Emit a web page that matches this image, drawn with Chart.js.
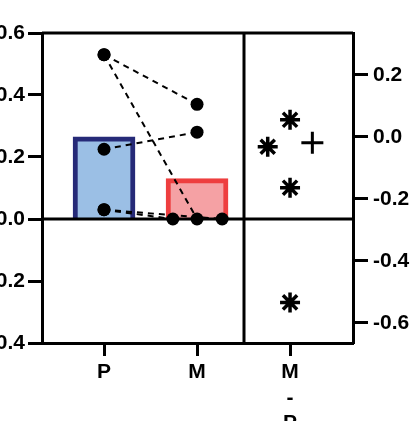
<!DOCTYPE html>
<html>
<head>
<meta charset="utf-8">
<script src="https://cdn.jsdelivr.net/npm/chart.js@4.4.0/dist/chart.umd.min.js"></script>
<style>
  html, body { margin: 0; padding: 0; background: #fff; overflow: hidden; }
  canvas { display: block; }
</style>
</head>
<body>
<canvas id="grafico" width="412" height="421"></canvas>
<script>
// Datos
const grupos = ["P", "M", "M-P"];
const posGrupos = [1, 2, 3];
const medias = [0.265, 0.13];
const valoresP = [0.53, 0.53, 0.225, 0.03, 0.03];
const valoresM = [0.37, 0.0, 0.28, 0.0, 0.0];
const posM = [2.0, 2.0, 2.0, 1.74, 2.27];
const diferencias = [0.055, -0.032, -0.164, -0.534];
const posDif = [3.0, 2.76, 3.0, 3.0];
const resumenDif = [-0.019];
const posResumen = [3.24];
const ticksIzq = [0.6, 0.4, 0.2, 0.0, -0.2, -0.4];
const ticksDer = [0.2, 0.0, -0.2, -0.4, -0.6];

const fuente = { family: "'Liberation Sans', Arial, sans-serif", size: 21, weight: 'bold', lineHeight: 1.2 };
const divisor = 2.505;

// Líneas de marco: borde superior, separador y línea del cero
const marco = {
    id: 'marco',
    afterDatasetsDraw(chart) {
        const { ctx, chartArea: a, scales } = chart;
        const xDiv = scales.x.getPixelForValue(divisor);
        const yCero = scales.y.getPixelForValue(0);
        ctx.save();
        ctx.strokeStyle = '#000';
        ctx.lineWidth = 3;
        ctx.beginPath();
        ctx.moveTo(a.left, a.top);
        ctx.lineTo(a.right, a.top);
        ctx.moveTo(xDiv, a.top);
        ctx.lineTo(xDiv, a.bottom);
        ctx.moveTo(a.left, yCero);
        ctx.lineTo(a.right, yCero);
        ctx.stroke();
        ctx.restore();
    }
};

const lineasPares = valoresP.map((p, i) => ({
    type: 'line',
    data: [{ x: posGrupos[0], y: p }, { x: posM[i], y: valoresM[i] }],
    borderColor: '#000',
    borderWidth: 2,
    borderDash: [6, 5],
    pointRadius: 0,
    fill: false,
    order: 2
}));

const ejeTicks = {
    grid: { offset: false, drawOnChartArea: false, drawTicks: true, tickLength: 14, tickWidth: 3, tickColor: '#000' },
    border: { display: true, color: '#000', width: 3 }
};

new Chart(document.getElementById("grafico"), {
    type: 'scatter',
    data: {
        datasets: [
            {
                type: 'bar',
                data: medias.map((m, i) => ({ x: posGrupos[i], y: m })),
                backgroundColor: ['#9bbfe5', '#f5a1a4'],
                borderColor: ['#262a78', '#ee3e3f'],
                borderWidth: 5,
                barThickness: 62,
                borderSkipped: 'start',
                order: 3
            },
            ...lineasPares,
            {
                type: 'scatter',
                data: valoresP.map(v => ({ x: posGrupos[0], y: v }))
                    .concat(valoresM.map((v, i) => ({ x: posM[i], y: v }))),
                pointRadius: 6.5,
                pointBackgroundColor: '#000',
                pointBorderWidth: 0,
                order: 1
            },
            {
                type: 'scatter',
                yAxisID: 'y2',
                data: diferencias.map((d, i) => ({ x: posDif[i], y: d })),
                pointStyle: 'star',
                pointRadius: 10,
                pointBorderColor: '#000',
                pointBorderWidth: 3.5,
                order: 0
            },
            {
                type: 'scatter',
                yAxisID: 'y2',
                data: resumenDif.map((d, i) => ({ x: posResumen[i], y: d })),
                pointStyle: 'cross',
                pointRadius: 11,
                pointBorderColor: '#000',
                pointBorderWidth: 3,
                order: 0
            }
        ]
    },
    options: {
        responsive: false,
        animation: false,
        devicePixelRatio: 1,
        layout: { padding: { top: 33, left: 0, right: 0, bottom: 0 } },
        plugins: { legend: { display: false }, tooltip: { enabled: false } },
        scales: {
            x: {
                type: 'linear',
                min: 0.333,
                max: 3.677,
                offset: false,
                afterBuildTicks: s => { s.ticks = posGrupos.map(v => ({ value: v })); },
                afterFit: s => { s.height = 78; },
                grid: { ...ejeTicks.grid, tickLength: 13 },
                border: ejeTicks.border,
                ticks: {
                    color: '#000',
                    font: fuente,
                    padding: 4,
                    maxRotation: 0,
                    autoSkip: false,
                    callback: (v, i) => grupos[i] === 'M-P' ? ['M', '-', 'P'] : grupos[i]
                }
            },
            y: {
                position: 'left',
                min: -0.4,
                max: 0.6,
                afterBuildTicks: s => { s.ticks = ticksIzq.map(v => ({ value: v })); },
                afterFit: s => { s.width = 42; },
                ...ejeTicks,
                ticks: { color: '#000', font: fuente, padding: 3, callback: v => v.toFixed(1) }
            },
            y2: {
                position: 'right',
                min: -0.4 - medias[0],
                max: 0.6 - medias[0],
                afterBuildTicks: s => { s.ticks = ticksDer.map(v => ({ value: v })); },
                afterFit: s => { s.width = 59; },
                ...ejeTicks,
                grid: { ...ejeTicks.grid, tickLength: 15 },
                ticks: { color: '#000', font: fuente, padding: 5, callback: v => v.toFixed(1) }
            }
        }
    },
    plugins: [marco]
});
</script>
</body>
</html>
